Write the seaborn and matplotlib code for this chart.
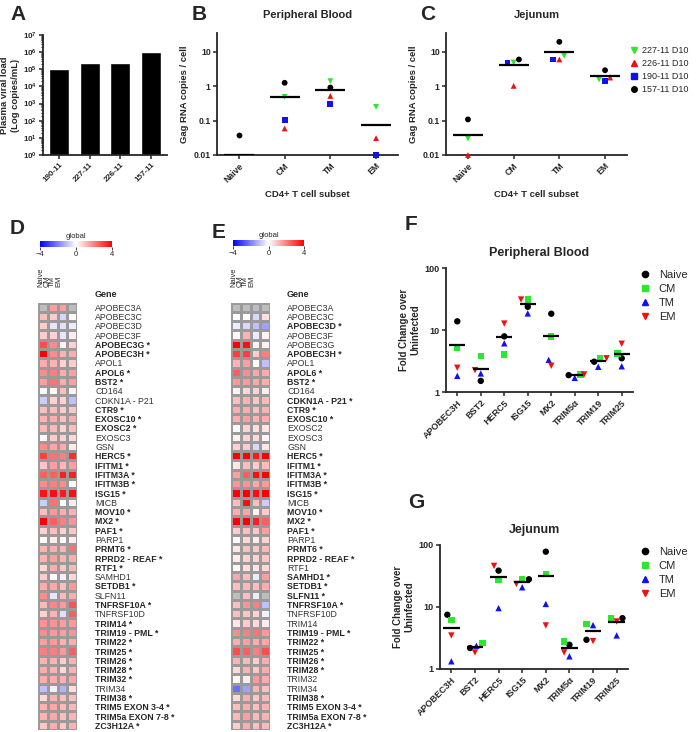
import numpy as np
import pandas as pd
import matplotlib
matplotlib.use('Agg')
import matplotlib.pyplot as plt
from matplotlib.markers import MarkerStyle
from matplotlib.lines import Line2D
from matplotlib.ticker import LogLocator, LogFormatterMathtext, NullLocator
import seaborn as sns

nan = np.nan

# ---- data ----
viral_ids = ['190-11', '227-11', '226-11', '157-11']
viral_load = [1.0e5, 2.2e5, 2.2e5, 9.8e5]

subsets = ['Naive', 'CM', 'TM', 'EM']
animals = ['227-11 D10', '226-11 D10', '190-11 D10', '157-11 D10']

# Gag RNA copies / cell, per animal, order = subsets (0 = below detection)
gag_pb_227 = [0, 0.49, 1.4, 0.25]
gag_pb_226 = [0, 0.059, 0.52, 0.031]
gag_pb_190 = [0, 0.103, 0.31, 0.01]
gag_pb_157 = [0.039, 1.25, 0.91, 0]

gag_jej_227 = [0.030, 4.87, 7.6, 1.56]
gag_jej_226 = [0.01, 1.02, 5.95, 1.78]
gag_jej_190 = [0, 4.87, 5.95, 1.43]
gag_jej_157 = [0.108, 5.95, 19.4, 2.9]

fc_genes = ['APOBEC3H', 'BST2', 'HERC5', 'ISG15', 'MX2', 'TRIM5\u03b1', 'TRIM19', 'TRIM25']
fc_pb_naive = [13.8, 1.51, 7.9, 23.7, 18.3, 1.87, 3.08, 3.5]
fc_pb_cm = [5.1, 3.8, 4.05, 31, 7.9, 1.92, 3.5, 4.2]
fc_pb_tm = [1.82, 1.99, 6.1, 18.5, 3.3, 1.69, 2.55, 2.6]
fc_pb_em = [2.46, 2.25, 12.7, 31, 2.65, 1.92, 3.5, 6.0]

fc_jej_naive = [7.5, 2.18, 38.6, 28, 78, 2.46, 2.96, 6.6]
fc_jej_cm = [6.2, 2.62, 27.3, 28, 34, 2.79, 5.3, 6.6]
fc_jej_tm = [1.33, 2.37, 9.6, 20.8, 11.2, 1.6, 5.1, 3.48]
fc_jej_em = [3.47, 1.85, 46, 23.5, 5.04, 1.85, 2.82, 5.85]

genes = ['APOBEC3A', 'APOBEC3C', 'APOBEC3D', 'APOBEC3F', 'APOBEC3G', 'APOBEC3H',
         'APOL1', 'APOL6', 'BST2', 'CD164', 'CDKN1A - P21', 'CTR9', 'EXOSC10',
         'EXOSC2', 'EXOSC3', 'GSN', 'HERC5', 'IFITM1', 'IFITM3A', 'IFITM3B', 'ISG15',
         'MICB', 'MOV10', 'MX2', 'PAF1', 'PARP1', 'PRMT6', 'RPRD2 - REAF', 'RTF1',
         'SAMHD1', 'SETDB1', 'SLFN11', 'TNFRSF10A', 'TNFRSF10D', 'TRIM14',
         'TRIM19 - PML', 'TRIM22', 'TRIM25', 'TRIM26', 'TRIM28', 'TRIM32', 'TRIM34',
         'TRIM38', 'TRIM5 EXON 3-4', 'TRIM5a EXON 7-8', 'ZC3H12A']

# global log2 fold change heatmaps (NaN = not measured)
pb_naive = [nan, 1.0, 0.8, 0.8, 2.8, 4.0, 1.3, 1.8, 1.5, 0.1, -0.8, 1.0, 1.2, 1.1, 0.1, 1.8,
            3.0, 0.9, 2.5, 1.8, 3.7, -0.8, 1.0, 4.0, 0.7, 0.1, 1.2, 1.2, 0.6, 0.8, 1.3, 1.8,
            1.1, 0.7, 1.7, 1.8, 1.5, 2.0, 1.2, 1.3, 1.3, -1.0, 0.6, 1.2, 1.2, 0.9]
pb_cm = [1.5, 0.8, -0.4, 0.7, 1.8, 1.8, 1.2, 2.0, 2.2, 0.1, 0.7, 1.0, 1.3, 1.1, 0.8, 1.4,
         2.2, 1.5, 2.5, 2.0, 3.8, 2.2, 1.6, 2.5, 1.0, 0.3, 1.3, 1.5, 1.3, 0.1, 1.4, -0.4,
         1.9, 1.2, 1.7, 1.6, 1.6, 2.0, 1.2, 1.2, 1.3, -0.2, 1.2, 1.4, 1.4, 1.3]
pb_tm = [1.5, -0.6, -0.5, -0.4, 0.2, 1.2, 0.7, 1.3, 1.3, 1.0, 0.7, 0.8, 1.0, 0.7, 0.7, 1.3,
         2.0, 1.1, 3.5, 1.8, 3.6, 0.0, 1.3, 2.0, 0.7, 0.1, 1.2, 1.2, 0.9, -0.2, 1.0, 1.1,
         1.6, -0.5, 1.5, 1.5, 1.2, 1.6, 0.8, 0.6, 1.2, -1.2, 1.0, 1.1, 1.0, 0.9]
pb_em = [nan, 0.1, -0.3, 0.3, 0.7, 1.3, 0.8, 1.5, 1.5, 0.2, -1.0, 0.9, 1.3, 1.0, 0.6, 0.3,
         3.3, 1.5, 3.5, 0.0, 3.8, 0.3, 1.2, 1.7, 0.9, 0.3, 2.2, 1.3, 1.1, 0.6, 1.6, 1.3,
         2.7, 2.5, 1.6, 1.7, 1.3, 2.5, 1.2, 1.2, 1.4, 0.5, 1.0, 1.1, 1.2, 1.2]

jej_naive = [nan, 0.0, -0.3, 0.1, 4.0, 3.0, 1.2, 2.5, 1.6, 0.2, 1.0, 1.3, 1.3, 0.1, 0.2, 0.7,
             4.0, 0.4, 1.5, 1.7, 4.0, 1.0, 1.3, 4.0, 0.8, 0.1, 0.4, 0.3, 0.1, 1.4, 1.0, nan,
             1.0, 1.0, 0.4, 1.8, 1.3, 2.8, 1.2, 0.6, 0.1, -2.3, 0.6, 1.0, 1.1, 0.8]
jej_cm = [nan, 0.0, -0.6, 1.2, 3.8, 3.0, 1.5, 1.8, 1.6, 0.6, 1.2, 1.3, 1.5, 0.7, 0.7, 0.8,
          4.0, 1.0, 2.5, 1.7, 4.0, 3.8, 1.4, 4.0, 1.0, 0.6, 1.0, 0.7, 0.5, 1.0, 1.1, 1.0,
          1.7, 0.9, 0.8, 2.0, 1.5, 2.5, 1.1, 1.2, 0.3, -1.5, 1.3, 1.3, 1.5, 1.3]
jej_tm = [nan, -0.6, -1.0, -0.3, 0.2, 0.8, 0.1, 1.4, 1.4, 0.7, 0.9, 1.0, 1.2, 0.5, 0.6, -0.6,
          3.6, 0.8, 3.8, 1.4, 3.8, 1.0, 0.2, 3.5, 0.9, 0.3, 0.9, 0.7, 0.4, -0.3, 1.0, -0.3,
          2.0, 0.7, 0.6, 2.2, 1.3, 2.0, 0.8, 0.9, 1.6, 1.2, 0.9, 1.0, 1.1, 1.0]
jej_em = [nan, 0.5, -1.5, 0.2, 0.2, 2.0, -1.0, 1.3, 1.3, 0.3, 1.1, 1.2, 1.3, 0.4, 0.1, 0.4,
          4.0, 1.0, 4.0, 1.6, 4.0, -0.8, 0.8, 2.5, 1.5, 0.7, 1.1, 0.9, 0.6, 1.5, 1.3, nan,
          -1.0, -0.2, 0.3, 1.6, 1.4, 2.8, 1.3, 1.3, 1.3, 1.0, 1.1, 1.2, 1.2, 1.1]

sig_pb = ['APOBEC3G', 'APOBEC3H', 'APOL6', 'BST2', 'CTR9', 'EXOSC10', 'EXOSC2', 'HERC5',
          'IFITM1', 'IFITM3A', 'IFITM3B', 'ISG15', 'MOV10', 'MX2', 'PAF1', 'PRMT6',
          'RPRD2 - REAF', 'RTF1', 'SETDB1', 'TNFRSF10A', 'TRIM14', 'TRIM19 - PML', 'TRIM22',
          'TRIM25', 'TRIM26', 'TRIM28', 'TRIM32', 'TRIM38', 'TRIM5 EXON 3-4',
          'TRIM5a EXON 7-8', 'ZC3H12A']
sig_jej = ['APOBEC3D', 'APOBEC3H', 'APOL6', 'BST2', 'CDKN1A - P21', 'CTR9', 'EXOSC10',
           'HERC5', 'IFITM1', 'IFITM3A', 'IFITM3B', 'ISG15', 'MOV10', 'MX2', 'PAF1', 'PRMT6',
           'RPRD2 - REAF', 'SAMHD1', 'SETDB1', 'SLFN11', 'TNFRSF10A', 'TRIM19 - PML',
           'TRIM22', 'TRIM25', 'TRIM26', 'TRIM28', 'TRIM38', 'TRIM5 EXON 3-4',
           'TRIM5a EXON 7-8', 'ZC3H12A']

# ---- style ----
sns.set_style('ticks')
plt.rcParams['font.family'] = ['Liberation Sans', 'DejaVu Sans']
plt.rcParams['axes.linewidth'] = 1.3

GREEN, RED, BLUE, BLACK = '#2ee62e', '#ee1111', '#1111ee', '#000000'
animal_pal = dict(zip(animals, [GREEN, RED, BLUE, BLACK]))
animal_mk = dict(zip(animals, ['v', '^', 's', 'o']))
subset_pal = dict(zip(subsets, [BLACK, GREEN, BLUE, RED]))
subset_mk = dict(zip(subsets, ['o', 's', '^', 'v']))

W, H = 696, 732
fig = plt.figure(figsize=(W / 100, H / 100), dpi=100)


def box(left, top, right, bottom):
    return [left / W, 1 - bottom / H, (right - left) / W, (bottom - top) / H]


def long_frame(cols, col_names, cat_name, cats, val_name):
    rows = []
    for name, vals in zip(col_names, cols):
        for c, v in zip(cats, vals):
            rows.append((name, c, v))
    return pd.DataFrame(rows, columns=['grp', cat_name, val_name])


def dot_panel(ax, df, cat, val, order, palette, markers, size, half):
    shown = df[df[val] > 0]
    sns.swarmplot(data=shown, x=cat, y=val, hue='grp', order=order,
                  hue_order=list(palette.keys()), palette=palette, size=size,
                  log_scale=True, linewidth=0, legend=False, clip_on=False,
                  zorder=3, ax=ax)
    col2mk = {matplotlib.colors.to_hex(c): markers[k] for k, c in palette.items()}
    for coll in ax.collections:
        paths = []
        for fc in coll.get_facecolors():
            ms = MarkerStyle(col2mk[matplotlib.colors.to_hex(fc)])
            paths.append(ms.get_path().transformed(ms.get_transform()))
        if paths:
            coll.set_paths(paths)
    means = df.groupby(cat)[val].mean().reindex(order)
    pos = np.arange(len(order))
    ax.hlines(means.values, pos - half, pos + half, color='black', lw=1.6, zorder=4)
    ax.set_xlim(-0.48, len(order) - 0.52)


def finish_axis(ax, fs):
    sns.despine(ax=ax)
    ax.tick_params(width=1.1, length=3, labelsize=fs, pad=1.5)
    ax.tick_params(axis='y', which='minor', length=0)
    for lab in ax.get_xticklabels():
        lab.set_rotation(45)
        lab.set_ha('right')
        lab.set_rotation_mode('anchor')
        lab.set_fontweight('bold')
    for lab in ax.get_yticklabels():
        lab.set_fontweight('bold')


# ---- A: plasma viral load ----
axA = fig.add_axes(box(43, 35, 167, 155))
sns.barplot(x=viral_ids, y=viral_load, color='black', width=0.66, saturation=1, ax=axA)
axA.set_yscale('log')
axA.set_ylim(1, 1e7)
axA.set_xlim(-0.53, 3.53)
axA.yaxis.set_major_locator(LogLocator(base=10, numticks=10))
axA.yaxis.set_major_formatter(LogFormatterMathtext())
axA.yaxis.set_minor_locator(LogLocator(base=10, subs=np.arange(2, 10), numticks=10))
axA.set_ylabel('Plasma viral load\n(Log copies/mL)', fontsize=6.8, fontweight='bold', labelpad=2)
finish_axis(axA, 5.8)
axA.tick_params(axis='y', which='minor', length=1.5, width=0.8)

# ---- B / C: Gag RNA per subset ----
gag_sets = [
    ('Peripheral Blood', [gag_pb_227, gag_pb_226, gag_pb_190, gag_pb_157], box(217, 33, 398, 155)),
    ('Jejunum', [gag_jej_227, gag_jej_226, gag_jej_190, gag_jej_157], box(446, 33, 627, 155)),
]
gag_axes = []
for title, cols, pos in gag_sets:
    ax = fig.add_axes(pos)
    df = long_frame(cols, animals, 'subset', subsets, 'copies')
    dot_panel(ax, df, 'subset', 'copies', subsets, animal_pal, animal_mk, 4.2, 0.33)
    ax.set_ylim(0.01, 35)
    ax.set_yticks([0.01, 0.1, 1, 10])
    ax.set_yticklabels(['0.01', '0.1', '1', '10'])
    ax.yaxis.set_minor_locator(NullLocator())
    ax.set_ylabel('Gag RNA copies / cell', fontsize=6.8, fontweight='bold', labelpad=3)
    ax.set_xlabel('CD4+ T cell subset', fontsize=6.8, fontweight='bold', labelpad=4)
    ax.set_title(title, fontsize=8, fontweight='bold', pad=11)
    finish_axis(ax, 6.2)
    gag_axes.append(ax)

handles = [Line2D([], [], marker=animal_mk[a], color=animal_pal[a], linestyle='none',
                  markersize=4, label=a) for a in animals]
gag_axes[1].legend(handles=handles, loc='upper left', bbox_to_anchor=(630 / W, 1 - 46 / H),
                   bbox_transform=fig.transFigure, frameon=False, fontsize=6.5,
                   handlelength=0.8, handletextpad=0.5, labelspacing=0.45,
                   borderaxespad=0, borderpad=0)

# ---- D / E: heatmaps ----
cmap = plt.get_cmap('bwr').copy()
cmap.set_bad('#bdbdbd')
heat_sets = [
    ([pb_naive, pb_cm, pb_tm, pb_em], sig_pb, box(38, 302.5, 77, 730), box(40, 241, 112, 247), 95, 'D', (10, 228)),
    ([jej_naive, jej_cm, jej_tm, jej_em], sig_jej, box(231, 302.5, 270, 730), box(233, 240, 304, 246), 287, 'E', (212, 232)),
]
for cols, sig, pos, cpos, gx, letter, lpos in heat_sets:
    ax = fig.add_axes(pos)
    cax = fig.add_axes(cpos)
    df = pd.DataFrame(dict(zip(subsets, cols)), index=genes)
    labels = [g + ' *' if g in sig else g for g in genes]
    ax.set_facecolor('#bdbdbd')
    sns.heatmap(df, ax=ax, cmap=cmap, vmin=-4, vmax=4, linewidths=0.8, linecolor='#9a9a9a',
                cbar_ax=cax, cbar_kws={'orientation': 'horizontal', 'ticks': [-4, 0, 4]},
                xticklabels=subsets, yticklabels=labels)
    ax.yaxis.tick_right()
    ax.tick_params(axis='y', length=0, pad=(gx - pos[0] * W - pos[2] * W) * 0.72,
                   labelsize=6.3, labelrotation=0)
    for lab in ax.get_yticklabels():
        if lab.get_text().endswith('*'):
            lab.set_fontweight('bold')
        else:
            lab.set_color('#333333')
    ax.xaxis.tick_top()
    ax.set_xticks(0.3 + 0.6 * np.arange(4))
    ax.set_xticklabels(subsets, rotation=90, fontsize=5.4)
    ax.tick_params(axis='x', length=0, pad=11)
    ax.set_xlabel('')
    ax.set_ylabel('')
    cbar = ax.collections[0].colorbar
    cbar.outline.set_visible(False)
    cax.tick_params(labelsize=5.5, length=2, width=0.6, pad=1)
    cax.set_title('global', fontsize=5.5, pad=2)
    fig.text(gx / W, 1 - 295 / H, 'Gene', fontsize=6.5, fontweight='bold', va='center')
    fig.text(lpos[0] / W, 1 - lpos[1] / H, letter, fontsize=15, fontweight='bold', va='center')

# ---- F / G: fold change ----
fc_sets = [
    ('Peripheral Blood', [fc_pb_naive, fc_pb_cm, fc_pb_tm, fc_pb_em], box(446, 268, 633, 392), 270),
    ('Jejunum', [fc_jej_naive, fc_jej_cm, fc_jej_tm, fc_jej_em], box(440, 545, 628, 669), 547),
]
for title, cols, pos, leg_top in fc_sets:
    ax = fig.add_axes(pos)
    df = long_frame(cols, subsets, 'gene', fc_genes, 'fold')
    dot_panel(ax, df, 'gene', 'fold', fc_genes, subset_pal, subset_mk, 4.6, 0.35)
    ax.set_ylim(1, 100)
    ax.set_yticks([1, 10, 100])
    ax.set_yticklabels(['1', '10', '100'])
    ax.yaxis.set_minor_locator(NullLocator())
    ax.set_ylabel('Fold Change over\nUninfected', fontsize=7, fontweight='bold', labelpad=3)
    ax.set_xlabel('')
    ax.set_title(title, fontsize=9, fontweight='bold', pad=9)
    finish_axis(ax, 6.5)
    handles = [Line2D([], [], marker=subset_mk[s], color=subset_pal[s], linestyle='none',
                      markersize=4.5, label=s) for s in subsets]
    ax.legend(handles=handles, loc='upper left', bbox_to_anchor=(641 / W, 1 - leg_top / H),
              bbox_transform=fig.transFigure, frameon=False, fontsize=8,
              handlelength=0.8, handletextpad=0.8, labelspacing=0.35,
              borderaxespad=0, borderpad=0)

for letter, (x, y) in zip('ABCFG', [(10, 15), (192, 14), (420, 14), (405, 225), (408, 502)]):
    fig.text(x / W, 1 - y / H, letter, fontsize=15, fontweight='bold', va='center')

fig.savefig('out.png', dpi=100)
